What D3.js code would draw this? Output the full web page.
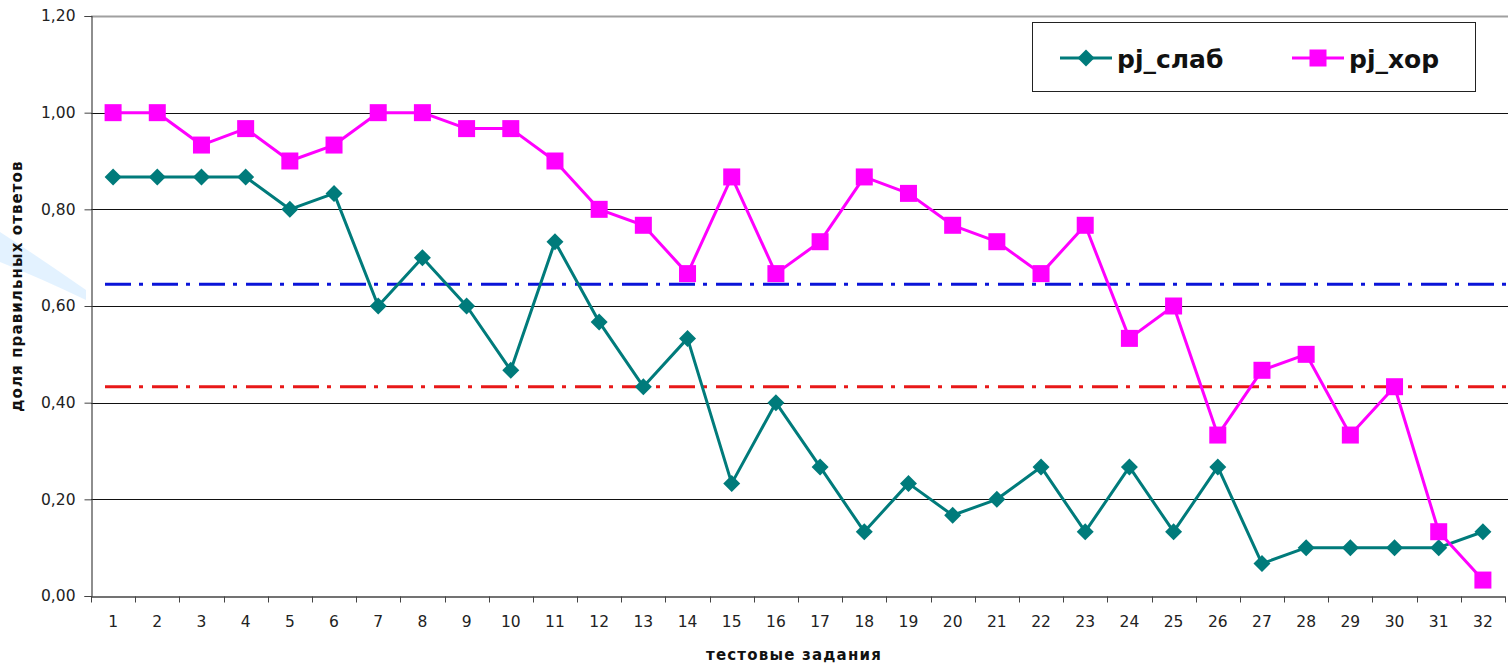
<!DOCTYPE html>
<html>
<head>
<meta charset="utf-8">
<script src="https://cdn.jsdelivr.net/npm/d3@7"></script>
<style>
  html, body { margin: 0; padding: 0; background: #fff; }
  svg { display: block; }
</style>
</head>
<body>
<svg id="chart" width="1508" height="664"></svg>
<script>
// Test items 1..32
const tasks = d3.range(1, 33).map(String);

// Share of correct answers, weak group
const weakShare = [0.867, 0.867, 0.867, 0.867, 0.80, 0.833, 0.60, 0.70, 0.60, 0.467,
                   0.733, 0.567, 0.433, 0.533, 0.233, 0.40, 0.267, 0.133, 0.233, 0.167,
                   0.20, 0.267, 0.133, 0.267, 0.133, 0.267, 0.067, 0.10, 0.10, 0.10,
                   0.10, 0.133];

// Share of correct answers, strong group
const goodShare = [1.0, 1.0, 0.933, 0.967, 0.90, 0.933, 1.0, 1.0, 0.967, 0.967,
                   0.90, 0.80, 0.767, 0.667, 0.867, 0.667, 0.733, 0.867, 0.833, 0.767,
                   0.733, 0.667, 0.767, 0.533, 0.60, 0.333, 0.467, 0.50, 0.333, 0.433,
                   0.133, 0.033];

// Threshold levels (dash-dot lines)
const upperLevel = 0.645;
const lowerLevel = 0.433;

const yTicks = [0, 0.2, 0.4, 0.6, 0.8, 1.0, 1.2];
const seriesNames = ["pj_слаб", "pj_хор"];

const svg = d3.select("#chart");
const plotLeft = 91, plotRight = 1505, plotTop = 16, plotBottom = 596;

const x = d3.scaleBand().domain(tasks).range([plotLeft, plotRight]).paddingInner(0).paddingOuter(0);
const y = d3.scaleLinear().domain([0, 1.2]).range([plotBottom, plotTop]);
const ruFmt = d3.formatLocale({ decimal: ",", thousands: " ", grouping: [3], currency: ["", ""] }).format(".2f");

const tickFont = "'DejaVu Sans', Verdana, sans-serif";
const titleFont = "'DejaVu Sans', Verdana, sans-serif";

// faint light-blue swoosh at the left edge
svg.append("path")
  .attr("d", "M0,232 Q40,258 86,290 L86,300 Q40,278 0,262 Z")
  .attr("fill", "#dcefff")
  .attr("opacity", 0.8);

// horizontal gridlines
svg.append("g").selectAll("line")
  .data(yTicks.filter(d => d > 0 && d < 1.2))
  .join("line")
  .attr("x1", plotLeft).attr("x2", 1508)
  .attr("y1", d => Math.round(y(d)) + 0.5).attr("y2", d => Math.round(y(d)) + 0.5)
  .attr("stroke", "#111").attr("stroke-width", 1);

// top border of plot area
svg.append("line")
  .attr("x1", plotLeft).attr("x2", 1508)
  .attr("y1", y(1.2) + 0.5).attr("y2", y(1.2) + 0.5)
  .attr("stroke", "#a0a0a0").attr("stroke-width", 2);

// y axis
const yAxis = svg.append("g")
  .attr("transform", `translate(${plotLeft + 0.5},0)`)
  .call(d3.axisLeft(y).tickValues(yTicks).tickFormat(ruFmt).tickSize(7).tickPadding(9));
yAxis.select(".domain").attr("stroke", "#444").attr("stroke-width", 1.2);
yAxis.selectAll(".tick line").attr("stroke", "#444");
yAxis.selectAll("text")
  .attr("font-family", tickFont)
  .attr("font-size", 15.5).attr("fill", "#222");

// x axis: labels centered in bands, ticks on band boundaries
const xAxis = svg.append("g")
  .attr("transform", `translate(0,${plotBottom + 0.5})`)
  .call(d3.axisBottom(x).tickSize(0).tickPadding(19));
xAxis.select(".domain").attr("stroke", "#444").attr("stroke-width", 1.5);
xAxis.selectAll("text")
  .attr("font-family", tickFont)
  .attr("font-size", 15.5).attr("fill", "#222");
xAxis.append("g").selectAll("line")
  .data(tasks.map(t => x(t)).concat([plotRight]))
  .join("line")
  .attr("x1", d => Math.round(d) + 0.5).attr("x2", d => Math.round(d) + 0.5)
  .attr("y1", 0).attr("y2", 6)
  .attr("stroke", "#444");

// dash-dot threshold lines
[[upperLevel, "#0a14d8"], [lowerLevel, "#e81818"]].forEach(([v, c]) => {
  svg.append("line")
    .attr("x1", 105).attr("x2", 1508)
    .attr("y1", y(v)).attr("y2", y(v))
    .attr("stroke", c).attr("stroke-width", 3)
    .attr("stroke-dasharray", "26,8,4,9");
});

const cx = i => x(tasks[i]) + x.bandwidth() / 2;
const line = d3.line().x((d, i) => cx(i)).y(d => y(d));

// weak group series: teal with diamonds
svg.append("path").datum(weakShare)
  .attr("d", line).attr("fill", "none")
  .attr("stroke", "#007b7b").attr("stroke-width", 3).attr("stroke-linejoin", "round");
svg.append("g").selectAll("path")
  .data(weakShare).join("path")
  .attr("d", "M0,-8.5 L8.5,0 L0,8.5 L-8.5,0 Z")
  .attr("transform", (d, i) => `translate(${cx(i)},${y(d)})`)
  .attr("fill", "#007b7b");

// strong group series: magenta with squares
svg.append("path").datum(goodShare)
  .attr("d", line).attr("fill", "none")
  .attr("stroke", "#ff00ff").attr("stroke-width", 3).attr("stroke-linejoin", "round");
svg.append("g").selectAll("rect")
  .data(goodShare).join("rect")
  .attr("x", (d, i) => cx(i) - 8.5).attr("y", d => y(d) - 8.5)
  .attr("width", 17).attr("height", 17)
  .attr("fill", "#ff00ff");

// axis titles
svg.append("text")
  .attr("transform", `translate(22,286) rotate(-90)`)
  .attr("text-anchor", "middle")
  .attr("font-family", titleFont)
  .attr("font-weight", "bold").attr("font-size", 15).attr("letter-spacing", 1.1).attr("fill", "#111")
  .text("доля правильных ответов");

svg.append("text")
  .attr("x", 794).attr("y", 660)
  .attr("text-anchor", "middle")
  .attr("font-family", titleFont)
  .attr("font-weight", "bold").attr("font-size", 15).attr("letter-spacing", 1.2).attr("fill", "#111")
  .text("тестовые задания");

// legend
const lg = svg.append("g");
lg.append("rect")
  .attr("x", 1032.5).attr("y", 22.5).attr("width", 443).attr("height", 69)
  .attr("fill", "#fff").attr("stroke", "#222").attr("stroke-width", 1);
const legendItems = [
  { name: seriesNames[0], color: "#007b7b", shape: "diamond", x0: 1060 },
  { name: seriesNames[1], color: "#ff00ff", shape: "square", x0: 1292 }
];
legendItems.forEach(it => {
  const g = lg.append("g").attr("transform", `translate(${it.x0},58)`);
  g.append("line").attr("x1", 0).attr("x2", 52).attr("y1", 0).attr("y2", 0)
    .attr("stroke", it.color).attr("stroke-width", 3);
  if (it.shape === "diamond") {
    g.append("path").attr("d", "M26,-8.5 L34.5,0 L26,8.5 L17.5,0 Z").attr("fill", it.color);
  } else {
    g.append("rect").attr("x", 17.5).attr("y", -8.5).attr("width", 17).attr("height", 17).attr("fill", it.color);
  }
  g.append("text").attr("x", 57).attr("y", 10)
    .attr("font-family", titleFont)
    .attr("font-weight", "bold").attr("font-size", 25).attr("fill", "#111")
    .text(it.name);
});
</script>
</body>
</html>
